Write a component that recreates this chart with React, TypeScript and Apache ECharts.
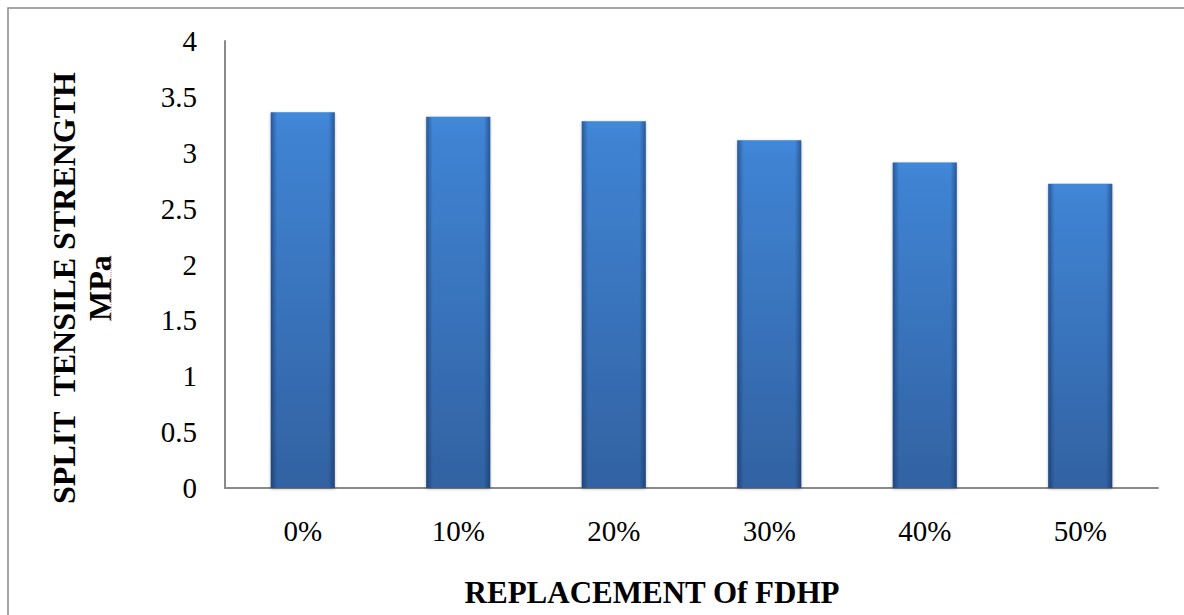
import React, { useEffect, useRef } from "react";
import * as echarts from "echarts";

const categories = ["0%", "10%", "20%", "30%", "40%", "50%"];
const strengthValues = [3.36, 3.32, 3.28, 3.11, 2.91, 2.72];
const yTicks = { min: 0, max: 4, interval: 0.5 };
const xTitle = "REPLACEMENT Of FDHP";
const yTitleLine1 = "SPLIT  TENSILE STRENGTH";
const yTitleLine2 = "MPa";

const FONT = "Liberation Serif";
const BAR_W = 64;

export default function App() {
  const ref = useRef<HTMLDivElement>(null);
  useEffect(() => {
    if (!ref.current) return;
    const chart = echarts.init(ref.current, null, { renderer: "svg" });
    chart.setOption({
      animation: false,
      backgroundColor: "#ffffff",
      textStyle: { fontFamily: FONT },
      grid: { left: 225, right: 26, top: 41, bottom: 127, containLabel: false },
      xAxis: {
        type: "category",
        data: categories,
        axisLine: { show: true, lineStyle: { color: "#8a8a8a", width: 2 } },
        axisTick: { show: false },
        axisLabel: { color: "#000", fontFamily: FONT, fontSize: 29, margin: 28 },
        splitLine: { show: false },
      },
      yAxis: {
        type: "value",
        min: yTicks.min,
        max: yTicks.max,
        interval: yTicks.interval,
        axisLine: { show: true, lineStyle: { color: "#8a8a8a", width: 2 } },
        axisTick: { show: false },
        splitLine: { show: false },
        axisLabel: { color: "#000", fontFamily: FONT, fontSize: 29, margin: 28 },
      },
      series: [
        {
          type: "bar",
          data: strengthValues,
          barWidth: BAR_W,
          itemStyle: {
            color: new echarts.graphic.LinearGradient(0, 0, 0, 1, [
              { offset: 0, color: "#4389da" },
              { offset: 0.05, color: "#3f83d3" },
              { offset: 1, color: "#3262a2" },
            ]),
            shadowColor: "rgba(0,0,0,0.3)",
            shadowBlur: 3,
            shadowOffsetY: 1,
          },
        },
        {
          type: "bar",
          data: strengthValues,
          barWidth: BAR_W,
          barGap: "-100%",
          silent: true,
          itemStyle: {
            color: new echarts.graphic.LinearGradient(0, 0, 1, 0, [
              { offset: 0, color: "rgba(10,30,70,0.45)" },
              { offset: 0.1, color: "rgba(10,30,70,0)" },
              { offset: 0.9, color: "rgba(10,30,70,0)" },
              { offset: 1, color: "rgba(10,30,70,0.45)" },
            ]),
          },
        },
        {
          type: "custom",
          silent: true,
          data: strengthValues.map((v, i) => [i, v]),
          renderItem: (params: any, api: any) => {
            const top = api.coord([api.value(0), api.value(1)]);
            const half = BAR_W / 2;
            const d = 8;
            const x0 = top[0] - half;
            const x1 = top[0] + half;
            const y = top[1];
            return {
              type: "group",
              children: [
                {
                  type: "polygon",
                  shape: {
                    points: [
                      [x0, y],
                      [x1, y],
                      [x1 - d, y + d],
                      [x0 + d, y + d],
                    ],
                  },
                  style: {
                    fill: new echarts.graphic.LinearGradient(0, 0, 0, 1, [
                      { offset: 0, color: "#6eaaf0" },
                      { offset: 1, color: "#4d92e2" },
                    ]),
                  },
                },
                {
                  type: "line",
                  shape: { x1: x0, y1: y, x2: x1, y2: y },
                  style: { stroke: "#8cbcf2", lineWidth: 1 },
                },
              ],
            };
          },
        },
      ],
      graphic: [
        {
          type: "rect",
          shape: { x: 8, y: 8, width: 1190, height: 620 },
          style: { fill: "none", stroke: "#8a8a8a", lineWidth: 1.5 },
          silent: true,
        },
        {
          type: "text",
          x: 64,
          y: 288,
          rotation: Math.PI / 2,
          style: {
            text: yTitleLine1,
            fontFamily: FONT,
            fontWeight: "bold",
            fontSize: 32,
            fill: "#000",
            align: "center",
            verticalAlign: "middle",
          },
        },
        {
          type: "text",
          x: 100,
          y: 288,
          rotation: Math.PI / 2,
          style: {
            text: yTitleLine2,
            fontFamily: FONT,
            fontWeight: "bold",
            fontSize: 32,
            fill: "#000",
            align: "center",
            verticalAlign: "middle",
          },
        },
        {
          type: "line",
          shape: { x1: 111, y1: 256, x2: 111, y2: 321 },
          style: { stroke: "#e07070", lineWidth: 1, lineDash: [1, 1] },
          silent: true,
        },
        {
          type: "text",
          x: 652,
          y: 592,
          style: {
            text: xTitle,
            fontFamily: FONT,
            fontWeight: "bold",
            fontSize: 31,
            fill: "#000",
            align: "center",
            verticalAlign: "middle",
          },
        },
      ],
    });
    return () => chart.dispose();
  }, []);
  return (
    <div
      ref={ref}
      style={{ position: "absolute", left: 0, top: 0, width: 1184, height: 615 }}
    />
  );
}
